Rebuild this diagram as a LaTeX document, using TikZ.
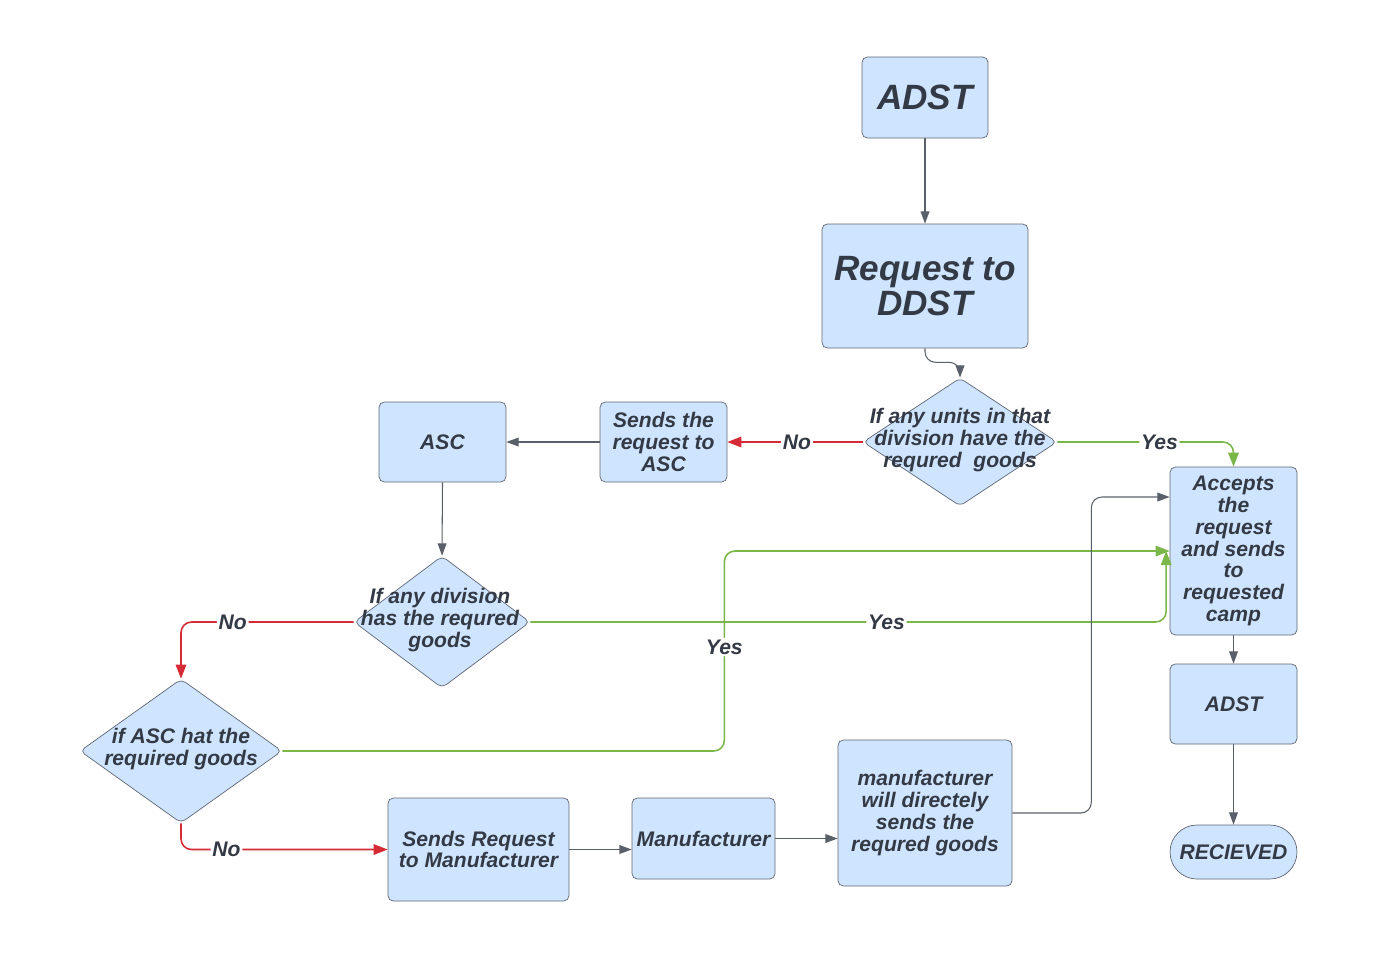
\documentclass[tikz,border=0pt]{standalone}
\usepackage{fontspec}
\setmainfont{Liberation Sans}
\usetikzlibrary{arrows.meta,shapes.geometric,calc}

\definecolor{boxfill}{HTML}{CFE4FF}
\definecolor{boxline}{HTML}{5F6672}
\definecolor{txtcol}{HTML}{333A45}
\definecolor{linecol}{HTML}{5A606A}
\definecolor{nored}{HTML}{D42B36}
\definecolor{yesgreen}{HTML}{7AB648}

\begin{document}
\begin{tikzpicture}[x=0.02cm,y=-0.02cm,
  every node/.style={text=txtcol,font=\fontsize{12}{12.4}\selectfont\bfseries\itshape},
  box/.style={draw=boxline,fill=boxfill,rounded corners=3pt,align=center,inner sep=2pt},
  bigbox/.style={box,font=\fontsize{20}{20}\selectfont\bfseries\itshape},
  decision/.style={diamond,draw=boxline,fill=boxfill,rounded corners=3pt,inner sep=0pt},
  dtext/.style={align=center},
  lbl/.style={fill=white,inner sep=1pt},
  flow/.style={draw=linecol,line width=0.6pt,rounded corners=6pt,-{Triangle[length=7pt,width=5pt]}},
  noflow/.style={draw=nored,line width=0.9pt,rounded corners=6pt,-{Triangle[length=8pt,width=6pt]}},
  yesflow/.style={draw=yesgreen,line width=0.9pt,rounded corners=6pt,-{Triangle[length=8pt,width=6pt]}}]
\useasboundingbox (0,0) rectangle (1375,958);

% Top chain
\node[bigbox,minimum width=2.52cm,minimum height=1.62cm] (adst) at (925,97.5) {ADST};
\node[bigbox,minimum width=4.12cm,minimum height=2.48cm] (req) at (925,286) {Request to\\DDST};
\node[decision,minimum width=3.88cm,minimum height=2.56cm] (d1) at (960,442) {};
\node[dtext] at (960,440) {If any units in that\\division have the\\requred\ \ goods};

% Middle row
\node[box,minimum width=2.54cm,minimum height=1.60cm] (sreq) at (663.5,442) {Sends the\\request to\\ASC};
\node[box,minimum width=2.54cm,minimum height=1.60cm] (asc) at (442.5,442) {ASC};
\node[decision,minimum width=3.52cm,minimum height=2.64cm] (d2) at (442,622) {};
\node[dtext] at (440,620) {If any division\\has the requred\\goods};
\node[decision,minimum width=4.04cm,minimum height=2.88cm] (d3) at (181,751) {};
\node[dtext] at (181,749) {if ASC hat the\\required goods};

% Bottom row
\node[box,minimum width=3.62cm,minimum height=2.06cm] (smf) at (478.5,849.5) {Sends Request\\to Manufacturer};
\node[box,minimum width=2.86cm,minimum height=1.62cm] (manu) at (703.5,838.5) {Manufacturer};
\node[box,minimum width=3.48cm,minimum height=2.92cm] (mwill) at (925,813) {manufacturer\\will directely\\sends the\\requred goods};

% Right column
\node[box,minimum width=2.54cm,minimum height=3.36cm] (acc) at (1233.5,551) {Accepts\\the\\request\\and sends\\to\\requested\\camp};
\node[box,minimum width=2.54cm,minimum height=1.60cm] (adst2) at (1233.5,704) {ADST};
\node[box,rounded corners=0.54cm,minimum width=2.54cm,minimum height=1.08cm] (recv) at (1233.5,852) {RECIEVED};

% Connectors
\draw[flow] (adst) -- (req);
\draw[flow] (req.south) -- ++(0,14) -| (d1.north);
\draw[noflow] (d1.west) -- node[lbl,pos=0.485]{No} (sreq.east);
\draw[yesflow] (d1.east) -| node[lbl,pos=0.29]{Yes} (acc.north);
\draw[flow] (sreq.west) -- (asc.east);
\draw[flow] (asc.south) -- (d2.north);
\draw[noflow] (d2.west) -| node[lbl,pos=0.35]{No} (d3.north);
\draw[yesflow] (d2.east) -| node[lbl,pos=0.28]{Yes} ([xshift=-2pt]acc.west);
\draw[yesflow] (d3.east) -- ++(442,0) |- node[lbl,pos=0.26]{Yes} (acc.west);
\draw[noflow] (d3.south) |- node[lbl,pos=0.61]{No} (smf.west);
\draw[flow] (smf.east) -- (smf.east -| manu.west);
\draw[flow] (manu.east) -- (manu.east -| mwill.west);
\draw[flow] (mwill.east) -- ++(79,0) |- ([yshift=1.08cm]acc.west);
\draw[flow] (acc) -- (adst2);
\draw[flow] (adst2) -- (recv);
\end{tikzpicture}
\end{document}
